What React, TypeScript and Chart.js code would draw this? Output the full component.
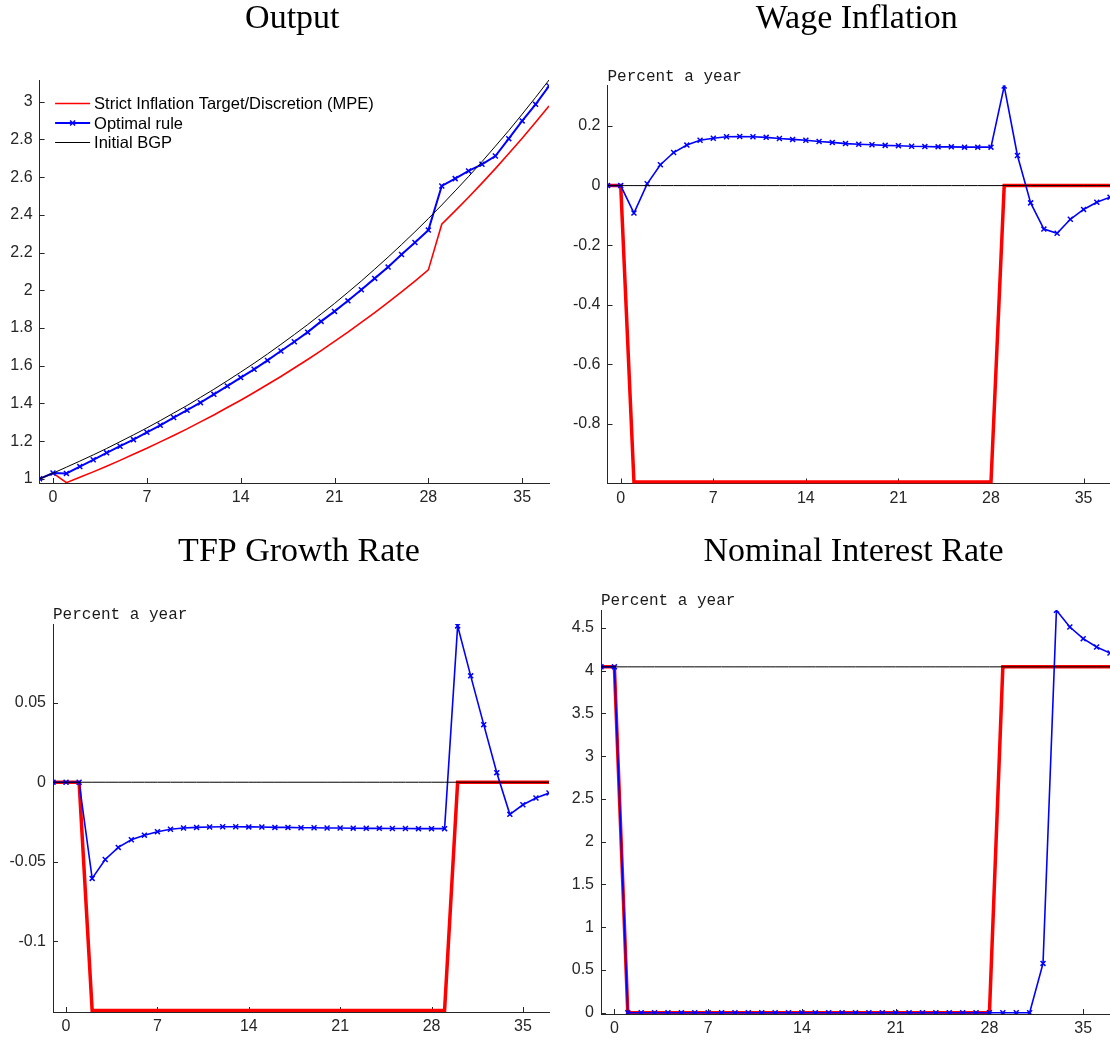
import React, { useEffect, useRef } from "react";
import { Chart, registerables } from "chart.js";

Chart.register(...registerables);

// ---------------- data ----------------
const periods = [-1, 0, 1, 2, 3, 4, 5, 6, 7, 8, 9, 10, 11, 12, 13, 14, 15, 16, 17, 18, 19, 20, 21, 22, 23, 24, 25, 26, 27, 28, 29, 30, 31, 32, 33, 34, 35, 36, 37];

const seriesLabels = ["Strict Inflation Target/Discretion (MPE)", "Optimal rule", "Initial BGP"];
const titles = ["Output", "Wage Inflation", "TFP Growth Rate", "Nominal Interest Rate"];
const unitLabel = "Percent a year";

const xTicks = [0, 7, 14, 21, 28, 35];
const outputYTicks = [1, 1.2, 1.4, 1.6, 1.8, 2, 2.2, 2.4, 2.6, 2.8, 3];
const wageYTicks = [-0.8, -0.6, -0.4, -0.2, 0, 0.2];
const tfpYTicks = [-0.1, -0.05, 0, 0.05];
const rateYTicks = [0, 0.5, 1, 1.5, 2, 2.5, 3, 3.5, 4, 4.5];

const outputMPE = [1.0, 1.03, 0.98, 1.008, 1.037, 1.067, 1.098, 1.13, 1.162, 1.196, 1.23, 1.265, 1.302, 1.339, 1.378, 1.417, 1.458, 1.5, 1.543, 1.588, 1.633, 1.68, 1.729, 1.778, 1.83, 1.882, 1.936, 1.992, 2.049, 2.108, 2.35, 2.421, 2.493, 2.568, 2.645, 2.725, 2.806, 2.891, 2.977];
const outputOptimal = [1.0, 1.031, 1.029, 1.065, 1.101, 1.138, 1.173, 1.208, 1.247, 1.284, 1.325, 1.364, 1.404, 1.448, 1.492, 1.537, 1.581, 1.628, 1.678, 1.727, 1.778, 1.835, 1.888, 1.944, 2.003, 2.063, 2.123, 2.19, 2.253, 2.319, 2.553, 2.592, 2.633, 2.668, 2.712, 2.804, 2.898, 2.986, 3.083];
const outputBGP = [1.0, 1.03, 1.062, 1.094, 1.127, 1.161, 1.197, 1.233, 1.27, 1.309, 1.349, 1.389, 1.432, 1.475, 1.52, 1.566, 1.613, 1.662, 1.713, 1.765, 1.818, 1.874, 1.93, 1.989, 2.049, 2.112, 2.176, 2.242, 2.31, 2.38, 2.452, 2.527, 2.603, 2.682, 2.764, 2.847, 2.934, 3.023, 3.115];

const wageMPE = [0, 0, -0.995, -0.995, -0.995, -0.995, -0.995, -0.995, -0.995, -0.995, -0.995, -0.995, -0.995, -0.995, -0.995, -0.995, -0.995, -0.995, -0.995, -0.995, -0.995, -0.995, -0.995, -0.995, -0.995, -0.995, -0.995, -0.995, -0.995, -0.995, 0, 0, 0, 0, 0, 0, 0, 0, 0];
const wageOptimal = [0, 0, -0.092, 0.006, 0.07, 0.111, 0.136, 0.152, 0.159, 0.164, 0.165, 0.164, 0.162, 0.158, 0.155, 0.152, 0.148, 0.145, 0.141, 0.139, 0.137, 0.135, 0.134, 0.132, 0.131, 0.13, 0.13, 0.129, 0.129, 0.129, 0.334, 0.101, -0.058, -0.146, -0.16, -0.113, -0.08, -0.056, -0.039];
const wageBGP = [0, 0, 0, 0, 0, 0, 0, 0, 0, 0, 0, 0, 0, 0, 0, 0, 0, 0, 0, 0, 0, 0, 0, 0, 0, 0, 0, 0, 0, 0, 0, 0, 0, 0, 0, 0, 0, 0, 0];

const tfpMPE = [0, 0, 0, -0.1435, -0.1435, -0.1435, -0.1435, -0.1435, -0.1435, -0.1435, -0.1435, -0.1435, -0.1435, -0.1435, -0.1435, -0.1435, -0.1435, -0.1435, -0.1435, -0.1435, -0.1435, -0.1435, -0.1435, -0.1435, -0.1435, -0.1435, -0.1435, -0.1435, -0.1435, -0.1435, -0.1435, 0, 0, 0, 0, 0, 0, 0, 0];
const tfpOptimal = [0, 0, 0, -0.0605, -0.0486, -0.041, -0.0362, -0.0333, -0.0311, -0.0296, -0.0288, -0.0284, -0.0282, -0.028, -0.028, -0.0281, -0.0282, -0.0284, -0.0284, -0.0286, -0.0286, -0.0288, -0.0288, -0.0289, -0.029, -0.029, -0.0291, -0.0291, -0.0292, -0.0292, -0.0292, 0.0983, 0.0669, 0.0362, 0.006, -0.0202, -0.0142, -0.0099, -0.0068];
const tfpBGP = [0, 0, 0, 0, 0, 0, 0, 0, 0, 0, 0, 0, 0, 0, 0, 0, 0, 0, 0, 0, 0, 0, 0, 0, 0, 0, 0, 0, 0, 0, 0, 0, 0, 0, 0, 0, 0, 0, 0];

const rateMPE = [4.045, 4.045, 0, 0, 0, 0, 0, 0, 0, 0, 0, 0, 0, 0, 0, 0, 0, 0, 0, 0, 0, 0, 0, 0, 0, 0, 0, 0, 0, 0, 4.045, 4.045, 4.045, 4.045, 4.045, 4.045, 4.045, 4.045, 4.045];
const rateOptimal = [4.045, 4.045, 0, 0, 0, 0, 0, 0, 0, 0, 0, 0, 0, 0, 0, 0, 0, 0, 0, 0, 0, 0, 0, 0, 0, 0, 0, 0, 0, 0, 0, 0, 0, 0.577, 4.706, 4.511, 4.375, 4.278, 4.207];
const rateBGP = [4.045, 4.045, 4.045, 4.045, 4.045, 4.045, 4.045, 4.045, 4.045, 4.045, 4.045, 4.045, 4.045, 4.045, 4.045, 4.045, 4.045, 4.045, 4.045, 4.045, 4.045, 4.045, 4.045, 4.045, 4.045, 4.045, 4.045, 4.045, 4.045, 4.045, 4.045, 4.045, 4.045, 4.045, 4.045, 4.045, 4.045, 4.045, 4.045];

// ---------------- styling / layout ----------------
const AXIS = "#262626";
const RED = "#ff0000";
const BLUE = "#0000ff";
const BLACK = "#000000";
const TICK_FONT = { family: "'Liberation Sans', Arial, sans-serif", size: 16 };

type PanelSpec = {
  title: string;
  mpe: number[];
  opt: number[];
  bgp: number[];
  yTicks: number[];
  yMin: number;
  yMax: number;
  cx: number; cy: number; cw: number; ch: number;
  L: number; R: number; T: number; B: number;
  titleBase: number;
  unit: boolean;
  legend: boolean;
  redW: number; blueW: number;
};

const panels: PanelSpec[] = [
  {
    title: titles[0], mpe: outputMPE, opt: outputOptimal, bgp: outputBGP, yTicks: outputYTicks,
    yMin: 0.978, yMax: 3.115, cx: 0, cy: 0, cw: 560, ch: 520, L: 39.6, R: 549, T: 80, B: 483,
    titleBase: 28, unit: false, legend: true, redW: 1.6, blueW: 2,
  },
  {
    title: titles[1], mpe: wageMPE, opt: wageOptimal, bgp: wageBGP, yTicks: wageYTicks,
    yMin: -1.0, yMax: 0.336, cx: 560, cy: 0, cw: 550, ch: 520, L: 607.5, R: 1110, T: 85.5, B: 483.5,
    titleBase: 28, unit: true, legend: false, redW: 3.5, blueW: 1.6,
  },
  {
    title: titles[2], mpe: tfpMPE, opt: tfpOptimal, bgp: tfpBGP, yTicks: tfpYTicks,
    yMin: -0.1445, yMax: 0.0995, cx: 0, cy: 520, cw: 560, ch: 520, L: 53, R: 549, T: 624, B: 1012,
    titleBase: 41, unit: true, legend: false, redW: 3.5, blueW: 1.6,
  },
  {
    title: titles[3], mpe: rateMPE, opt: rateOptimal, bgp: rateBGP, yTicks: rateYTicks,
    yMin: -0.015, yMax: 4.71, cx: 560, cy: 520, cw: 550, ch: 520, L: 601, R: 1110, T: 610, B: 1014,
    titleBase: 41, unit: true, legend: false, redW: 3.5, blueW: 1.6,
  },
];

function drawCross(ctx: CanvasRenderingContext2D, x: number, y: number, r: number) {
  ctx.moveTo(x - r, y - r);
  ctx.lineTo(x + r, y + r);
  ctx.moveTo(x + r, y - r);
  ctx.lineTo(x - r, y + r);
}

function makeDecor(p: PanelSpec) {
  return {
    id: "decor",
    beforeDatasetsDraw(chart: any) {
      const ctx: CanvasRenderingContext2D = chart.ctx;
      const a = chart.chartArea;
      const xs = chart.scales.x;
      const ys = chart.scales.y;
      ctx.save();
      ctx.strokeStyle = AXIS;
      ctx.lineWidth = 1;
      ctx.beginPath();
      for (const v of xTicks) {
        const x = Math.round(xs.getPixelForValue(v)) + 0.5;
        ctx.moveTo(x, a.bottom);
        ctx.lineTo(x, a.bottom - 5);
      }
      for (const v of p.yTicks) {
        const y = Math.round(ys.getPixelForValue(v)) + 0.5;
        ctx.moveTo(a.left, y);
        ctx.lineTo(a.left + 5, y);
      }
      ctx.stroke();
      ctx.restore();
    },
    afterDraw(chart: any) {
      const ctx: CanvasRenderingContext2D = chart.ctx;
      const a = chart.chartArea;
      ctx.save();
      // title
      ctx.fillStyle = "#000";
      ctx.font = "34px 'Liberation Serif', 'Times New Roman', serif";
      ctx.textAlign = "center";
      ctx.textBaseline = "alphabetic";
      ctx.fillText(p.title, (a.left + a.right) / 2 - 2, p.titleBase);
      // unit label
      if (p.unit) {
        ctx.font = "16px 'Liberation Mono', 'Courier New', monospace";
        ctx.textAlign = "left";
        ctx.fillStyle = "#1a1a1a";
        ctx.fillText(unitLabel, a.left, a.top - 5);
      }
      // legend
      if (p.legend) {
        const rows = [
          { label: seriesLabels[0], color: RED, w: 1.6, marker: false },
          { label: seriesLabels[1], color: BLUE, w: 2, marker: true },
          { label: seriesLabels[2], color: BLACK, w: 1, marker: false },
        ];
        const x0 = a.left + 15.5;
        const x1 = a.left + 50.5;
        const ys0 = [103.5, 123, 142.5];
        ctx.font = "16.5px 'Liberation Sans', Arial, sans-serif";
        ctx.textAlign = "left";
        ctx.textBaseline = "middle";
        rows.forEach((r, i) => {
          const y = ys0[i];
          ctx.strokeStyle = r.color;
          ctx.lineWidth = r.w;
          ctx.beginPath();
          ctx.moveTo(x0, y);
          ctx.lineTo(x1, y);
          ctx.stroke();
          if (r.marker) {
            ctx.lineWidth = 1.5;
            ctx.beginPath();
            drawCross(ctx, (x0 + x1) / 2, y, 2.5);
            ctx.stroke();
          }
          ctx.fillStyle = "#000";
          ctx.fillText(r.label, x1 + 4, y + 1);
        });
      }
      ctx.restore();
    },
  };
}

function pts(vals: number[]) {
  return periods.map((t, i) => ({ x: t, y: vals[i] }));
}

function PanelChart({ p }: { p: PanelSpec }) {
  const ref = useRef<HTMLCanvasElement>(null);
  useEffect(() => {
    const canvas = ref.current;
    if (!canvas) return;
    const chart = new Chart(canvas, {
      type: "line",
      data: {
        datasets: [
          {
            label: seriesLabels[0],
            data: pts(p.mpe),
            borderColor: RED,
            backgroundColor: RED,
            borderWidth: p.redW,
            pointRadius: 0,
            tension: 0,
            order: 3,
          },
          {
            label: seriesLabels[1],
            data: pts(p.opt),
            borderColor: BLUE,
            backgroundColor: BLUE,
            borderWidth: p.blueW,
            pointStyle: "crossRot",
            pointRadius: 3.5,
            pointBorderWidth: 1.5,
            pointBorderColor: BLUE,
            tension: 0,
            order: 2,
          },
          {
            label: seriesLabels[2],
            data: pts(p.bgp),
            borderColor: BLACK,
            backgroundColor: BLACK,
            borderWidth: 1,
            pointRadius: 0,
            tension: 0,
            order: 1,
          },
        ],
      } as any,
      options: {
        responsive: false,
        animation: false,
        devicePixelRatio: 1,
        events: [],
        layout: {
          autoPadding: false,
          padding: { left: 0, top: p.T - p.cy, right: p.cx + p.cw - p.R, bottom: 0 },
        },
        plugins: {
          legend: { display: false },
          tooltip: { enabled: false },
          title: { display: false },
        },
        scales: {
          x: {
            type: "linear",
            min: -1,
            max: 37,
            grid: { display: false, drawTicks: false },
            border: { display: true, color: AXIS, width: 1 },
            ticks: {
              font: TICK_FONT,
              color: AXIS,
              padding: 5,
              maxRotation: 0,
              autoSkip: false,
              callback: (v: any) => String(v),
            },
            afterBuildTicks: (scale: any) => {
              scale.ticks = xTicks.map((v) => ({ value: v }));
            },
            afterFit: (scale: any) => {
              scale.height = p.cy + p.ch - p.B;
            },
          },
          y: {
            type: "linear",
            min: p.yMin,
            max: p.yMax,
            grid: { display: false, drawTicks: false },
            border: { display: true, color: AXIS, width: 1 },
            ticks: {
              font: TICK_FONT,
              color: AXIS,
              padding: 7,
              autoSkip: false,
              callback: (v: any) => String(v),
            },
            afterBuildTicks: (scale: any) => {
              scale.ticks = p.yTicks.map((v) => ({ value: v }));
            },
            afterFit: (scale: any) => {
              scale.width = p.L - p.cx;
            },
          },
        },
      } as any,
      plugins: [makeDecor(p)],
    });
    return () => chart.destroy();
  }, [p]);
  return (
    <canvas
      ref={ref}
      width={p.cw}
      height={p.ch}
      style={{ position: "absolute", left: p.cx, top: p.cy, width: p.cw, height: p.ch, display: "block" }}
    />
  );
}

export default function App() {
  return (
    <div
      style={{
        position: "absolute",
        left: 0,
        top: 0,
        width: 1110,
        height: 1040,
        background: "#ffffff",
        overflow: "hidden",
      }}
    >
      {panels.map((p, i) => (
        <PanelChart key={i} p={p} />
      ))}
    </div>
  );
}
